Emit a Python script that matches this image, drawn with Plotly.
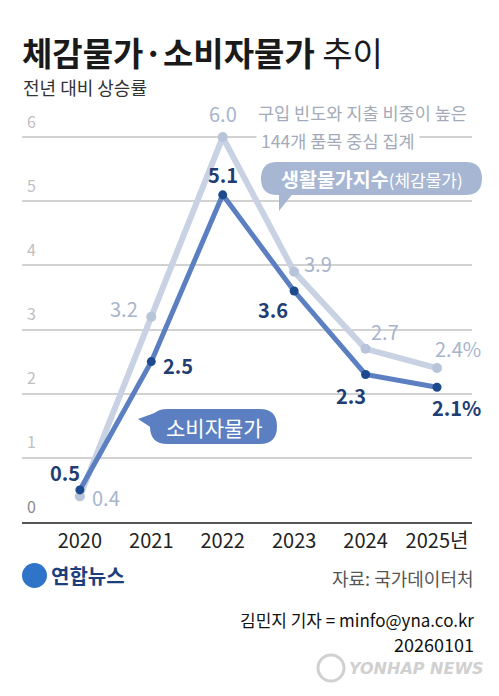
import plotly.graph_objects as go

years = [2020, 2021, 2022, 2023, 2024, 2025]
year_labels = ["2020", "2021", "2022", "2023", "2024", "2025년"]
cpi = [0.5, 2.5, 5.1, 3.6, 2.3, 2.1]
living = [0.4, 3.2, 6.0, 3.9, 2.7, 2.4]
cpi_text = ["0.5", "2.5", "5.1", "3.6", "2.3", "2.1%"]
living_text = ["0.4", "3.2", "6.0", "3.9", "2.7", "2.4%"]
y_ticks = [0, 1, 2, 3, 4, 5, 6]

# label offsets (pixels) relative to each point
cpi_off = [(-15, 17), (27, -4), (0, 20), (-21, -18), (-15, -21), (19, -20)]
living_off = [(26, -1), (-27, 8), (0, 24), (24, 8), (19, 17), (21, 20)]

FONT = "Noto Sans CJK KR"
W, H = 499, 696
L, R, T, B = 22, 27, 105, 174
PW, PH = W - L - R, H - T - B


def px(x):
    return (x - L) / PW


def py(y):
    return (H - B - y) / PH


DARK_LINE = "#5b7fc0"
DARK_MARK = "#1d4a8c"
DARK_TEXT = "#1f3e74"
LIGHT_LINE = "#c8d2e3"
LIGHT_MARK = "#b8c4da"
LIGHT_TEXT = "#a7b5cc"

fig = go.Figure()
fig.add_trace(go.Scatter(
    x=years, y=living, mode="lines+markers",
    line=dict(color=LIGHT_LINE, width=6),
    marker=dict(color=LIGHT_MARK, size=10),
    cliponaxis=False, hoverinfo="skip", showlegend=False))
fig.add_trace(go.Scatter(
    x=years, y=cpi, mode="lines+markers",
    line=dict(color=DARK_LINE, width=5),
    marker=dict(color=DARK_MARK, size=9),
    cliponaxis=False, hoverinfo="skip", showlegend=False))

ann = []
for xv, yv, t, (dx, dy) in zip(years, living, living_text, living_off):
    ann.append(dict(x=xv, y=yv, xref="x", yref="y", text=t, showarrow=False,
                    xshift=dx, yshift=dy,
                    font=dict(family=FONT, size=20, color=LIGHT_TEXT)))
for xv, yv, t, (dx, dy) in zip(years, cpi, cpi_text, cpi_off):
    ann.append(dict(x=xv, y=yv, xref="x", yref="y", text="<b>" + t + "</b>",
                    showarrow=False, xshift=dx, yshift=dy,
                    font=dict(family=FONT, size=20, color=DARK_TEXT)))

# title & subtitle
ann.append(dict(x=px(20), y=py(52), xref="paper", yref="paper",
                text="<b>체감물가·소비자물가</b> 추이", showarrow=False,
                xanchor="left", yanchor="middle",
                font=dict(family=FONT, size=33, color="#1a1a1a")))
ann.append(dict(x=px(21), y=py(87), xref="paper", yref="paper",
                text="전년 대비 상승률", showarrow=False,
                xanchor="left", yanchor="middle",
                font=dict(family=FONT, size=18, color="#333333")))

# note text
ann.append(dict(x=px(256), y=py(112), xref="paper", yref="paper",
                text="구입 빈도와 지출 비중이 높은", showarrow=False,
                xanchor="left", yanchor="middle",
                font=dict(family=FONT, size=17.5, color="#a3abba")))
ann.append(dict(x=px(256), y=py(140), xref="paper", yref="paper",
                text="144개 품목 중심 집계", showarrow=False,
                xanchor="left", yanchor="middle", bgcolor="white", borderpad=4,
                font=dict(family=FONT, size=17.5, color="#a3abba")))

# bubble texts
ann.append(dict(x=px(372), y=py(178.5), xref="paper", yref="paper",
                text="<b>생활물가지수</b><span style='font-size:17px'>(체감물가)</span>",
                showarrow=False, xanchor="center", yanchor="middle",
                font=dict(family=FONT, size=19.5, color="white")))
ann.append(dict(x=px(214), y=py(426.5), xref="paper", yref="paper",
                text="소비자물가", showarrow=False, xanchor="center", yanchor="middle",
                font=dict(family=FONT, size=21, color="white")))

# footer
ann.append(dict(x=px(49), y=py(575), xref="paper", yref="paper",
                text="<b>연합뉴스</b>", showarrow=False, xanchor="left", yanchor="middle",
                font=dict(family=FONT, size=20, color="#1b3f7c")))
ann.append(dict(x=px(476), y=py(578), xref="paper", yref="paper",
                text="자료: 국가데이터처", showarrow=False, xanchor="right", yanchor="middle",
                font=dict(family=FONT, size=18, color="#555555")))
ann.append(dict(x=px(476), y=py(619), xref="paper", yref="paper",
                text="김민지 기자 = minfo@yna.co.kr", showarrow=False,
                xanchor="right", yanchor="middle",
                font=dict(family=FONT, size=17, color="#111111")))
ann.append(dict(x=px(476), y=py(644), xref="paper", yref="paper",
                text="20260101", showarrow=False, xanchor="right", yanchor="middle",
                font=dict(family=FONT, size=18, color="#111111")))
ann.append(dict(x=px(486), y=py(668), xref="paper", yref="paper",
                text="<b><i>YONHAP NEWS</i></b>", showarrow=False,
                xanchor="right", yanchor="middle",
                font=dict(family="DejaVu Sans", size=16, color="#d0d0d0")))


def path(points_cmds):
    out = []
    for cmd, pts in points_cmds:
        coords = " ".join(f"{px(a):.5f},{py(b):.5f}" for a, b in pts)
        out.append(f"{cmd} {coords}")
    return " ".join(out) + " Z"


def pill(x0, x1, y0, y1):
    r = (y1 - y0) / 2
    return path([
        ("M", [(x0 + r, y0)]),
        ("L", [(x1 - r, y0)]),
        ("Q", [(x1, y0), (x1, y0 + r)]),
        ("Q", [(x1, y1), (x1 - r, y1)]),
        ("L", [(x0 + r, y1)]),
        ("Q", [(x0, y1), (x0, y0 + r)]),
        ("Q", [(x0, y0), (x0 + r, y0)]),
    ])


def tri(a, b, c):
    return path([("M", [a]), ("L", [b]), ("L", [c])])


BUB1 = "#a6b6d3"
BUB2 = "#5b7fc0"
shapes = [
    dict(type="path", xref="paper", yref="paper", path=pill(261, 482, 162, 195),
         fillcolor=BUB1, line=dict(width=0), layer="above"),
    dict(type="path", xref="paper", yref="paper",
         path=tri((279, 192), (294, 192), (279, 211)),
         fillcolor=BUB1, line=dict(width=0), layer="above"),
    dict(type="path", xref="paper", yref="paper", path=pill(150, 277, 409, 444),
         fillcolor=BUB2, line=dict(width=0), layer="above"),
    dict(type="path", xref="paper", yref="paper",
         path=tri((138, 419), (160, 411), (158, 432)),
         fillcolor=BUB2, line=dict(width=0), layer="above"),
    # Yonhap logo marks
    dict(type="circle", xref="paper", yref="paper",
         x0=px(22), x1=px(47), y0=py(588), y1=py(563),
         fillcolor="#2f74c9", line=dict(width=0)),
    dict(type="circle", xref="paper", yref="paper",
         x0=px(318), x1=px(344), y0=py(681), y1=py(655),
         fillcolor="rgba(0,0,0,0)", line=dict(color="#d0d0d0", width=3)),
]

fig.update_layout(
    width=W, height=H,
    margin=dict(l=L, r=R, t=T, b=B, autoexpand=False),
    paper_bgcolor="white", plot_bgcolor="white",
    annotations=ann, shapes=shapes,
    xaxis=dict(range=[2019.19, 2025.49], tickvals=years, ticktext=year_labels,
               showgrid=False, zeroline=False, showline=True,
               linecolor="#555555", linewidth=1.5, ticks="",
               tickfont=dict(family=FONT, size=20, color="#222222")),
    yaxis=dict(range=[0, 6.5], tickvals=y_ticks,
               ticktext=[("<span style='color:#8a8a8a'>0</span>" if v == 0 else str(v)) for v in y_ticks],
               showgrid=True, gridcolor="#d2d2d2", gridwidth=1.5, zeroline=False,
               showline=False, ticks="", ticklabelposition="inside",
               ticklabelshift=-15, ticklabelstandoff=2,
               tickfont=dict(family=FONT, size=16, color="#c0c0c0")),
)

fig.write_html("out.html", config={"displayModeBar": False},
               post_script="document.body.style.margin='0';document.body.style.overflow='hidden';")
